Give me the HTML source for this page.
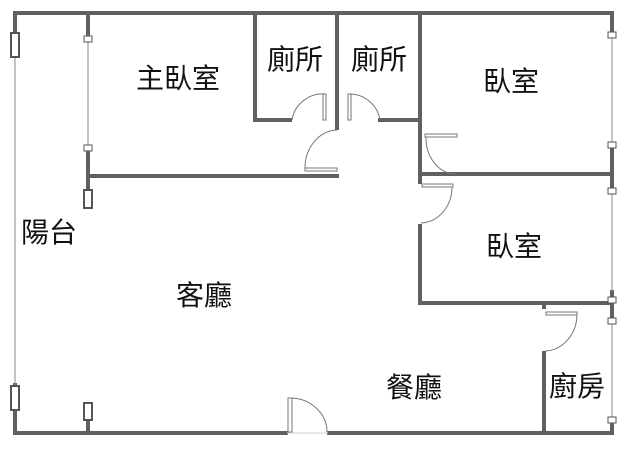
<!DOCTYPE html>
<html><head><meta charset="utf-8"><style>
html,body{margin:0;padding:0;background:#fff;}
svg{display:block}
text{font-family:"Liberation Sans","Noto Sans CJK TC",sans-serif;fill:#111;}
</style></head><body>
<svg width="640" height="461" viewBox="0 0 640 461" xmlns="http://www.w3.org/2000/svg">
<g stroke="#606060" stroke-width="4" fill="none" stroke-linecap="square">
<line x1="15" y1="13" x2="612" y2="13"/>
<line x1="15" y1="433" x2="286" y2="433"/>
<line x1="329" y1="433" x2="612" y2="433"/>
<line x1="88" y1="13" x2="88" y2="35"/>
<line x1="88" y1="150" x2="88" y2="190"/>
<line x1="88" y1="418" x2="88" y2="433"/>
<line x1="88" y1="176" x2="337" y2="176"/>
<line x1="255" y1="13" x2="255" y2="120"/>
<line x1="255" y1="120" x2="290" y2="120"/>
<line x1="337" y1="13" x2="337" y2="128"/>
<line x1="380" y1="120" x2="420" y2="120"/>
<line x1="420" y1="13" x2="420" y2="182"/>
<line x1="420" y1="174" x2="612" y2="174"/>
<line x1="420" y1="226" x2="420" y2="303"/>
<line x1="420" y1="303" x2="612" y2="303"/>
<line x1="544" y1="303" x2="544" y2="307"/>
<line x1="544" y1="353" x2="544" y2="433"/>
<line x1="612" y1="13" x2="612" y2="35"/>
<line x1="612" y1="145" x2="612" y2="190"/>
<line x1="612" y1="292" x2="612" y2="320"/>
<line x1="612" y1="420" x2="612" y2="433"/>
<line x1="15" y1="13" x2="15" y2="35"/>
<line x1="15" y1="385" x2="15" y2="433"/>
</g>
<g stroke="#888" stroke-width="1" fill="none">
<line x1="15" y1="35" x2="15" y2="385"/>
<line x1="88" y1="35" x2="88" y2="150"/>
<line x1="612" y1="35" x2="612" y2="145"/>
<line x1="612" y1="190" x2="612" y2="292"/>
<line x1="612" y1="320" x2="612" y2="420"/>
<line x1="287" y1="433" x2="328" y2="433" stroke="#ccc"/>
</g>
<g stroke="#555" stroke-width="1" fill="#fff">
<rect x="11" y="33" width="8" height="24" stroke-width="2"/>
<rect x="11" y="386" width="8" height="24" stroke-width="2"/>
<rect x="84" y="190" width="8" height="18" stroke-width="2"/>
<rect x="84" y="403" width="8" height="17" stroke-width="2"/>
<rect x="84" y="36" width="8" height="6"/>
<rect x="84" y="145" width="8" height="6"/>
<rect x="608" y="32" width="8" height="6"/>
<rect x="608" y="142" width="8" height="6"/>
<rect x="608" y="188" width="8" height="6"/>
<rect x="608" y="297" width="8" height="6"/>
<rect x="608" y="318" width="8" height="6"/>
<rect x="608" y="417" width="8" height="6"/>
</g>
<g stroke="#777" stroke-width="1" fill="none">
<rect x="323" y="94" width="3" height="26"/>
<path d="M325 94 A31 31 0 0 0 292 120"/>
<rect x="348" y="94" width="3" height="26"/>
<path d="M349 94 A31 31 0 0 1 380 120"/>
<rect x="305" y="168" width="32" height="3"/>
<path d="M305 168 A33 38 0 0 1 337 130"/>
<rect x="425" y="134" width="32" height="3"/>
<path d="M426 137 A30 36 0 0 0 455 174"/>
<rect x="422" y="184" width="31" height="3"/>
<path d="M452 187 A32 36 0 0 1 421 223"/>
<rect x="546" y="312" width="31" height="3"/>
<path d="M577 314 A33 37 0 0 1 545 351"/>
<rect x="288" y="398" width="4" height="34"/>
<path d="M290 398 A37 34 0 0 1 327 432"/>
</g>
<g font-size="28">
<text x="136" y="88">主臥室</text>
<text x="267" y="69">廁所</text>
<text x="351" y="69">廁所</text>
<text x="483" y="91">臥室</text>
<text x="486" y="256">臥室</text>
<text x="21" y="242">陽台</text>
<text x="176" y="305">客廳</text>
<text x="386" y="397">餐廳</text>
<text x="549" y="396">廚房</text>
</g>
</svg>
</body></html>
